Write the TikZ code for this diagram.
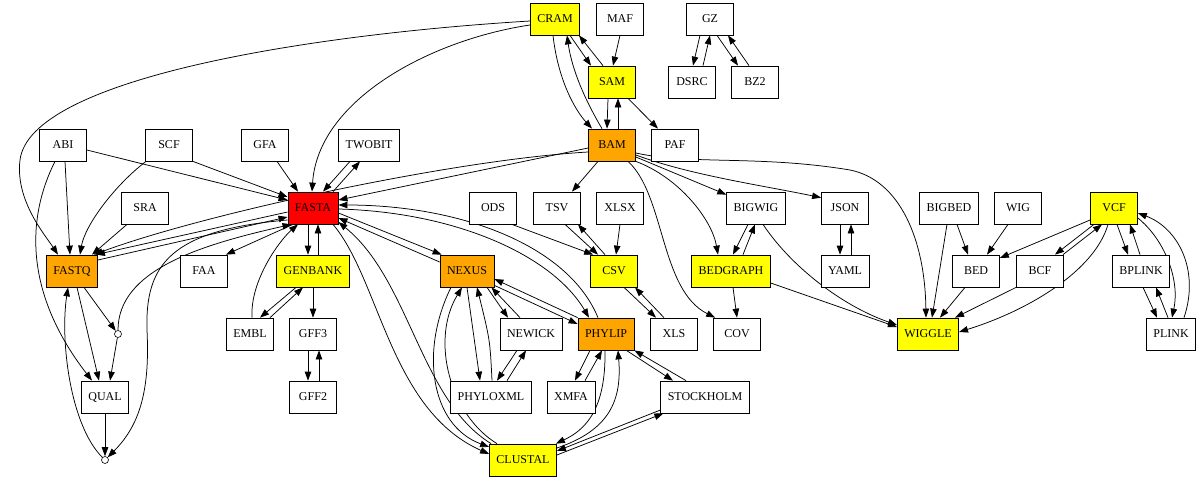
\documentclass[tikz,border=0pt]{standalone}
\usepackage{fontspec}
\setmainfont{Liberation Serif}
\usetikzlibrary{calc,arrows.meta}
\pgfdeclarelayer{bg}
\pgfsetlayers{bg,main}
\definecolor{cyel}{HTML}{FFFF00}
\definecolor{cora}{HTML}{FFA500}
\definecolor{cred}{HTML}{FF0000}
\begin{document}
\begin{tikzpicture}[x=1pt,y=-1pt,
  box/.style={draw=black, line width=0.75pt, fill=white, minimum width=47pt, minimum height=32pt, inner xsep=7pt, inner ysep=2pt, font=\fontsize{12}{14}\selectfont},
  e/.style={draw=black, line width=0.75pt, -{Triangle[length=9pt,width=6.5pt]}},
  pt/.style={circle, draw=black, line width=0.6pt, fill=white, inner sep=0pt, minimum size=7pt}]
\useasboundingbox (0,0) rectangle (1200,480);
% row 1
\node[box,fill=cyel] (cram) at (555,19) {CRAM};
\node[box] (maf) at (620,19) {MAF};
\node[box] (gz) at (710,19) {GZ};
% row 2
\node[box,fill=cyel] (sam) at (612,82) {SAM};
\node[box] (dsrc) at (692,82) {DSRC};
\node[box] (bz2) at (755,82) {BZ2};
% row 3
\node[box] (abi) at (63,145) {ABI};
\node[box] (scf) at (169,145) {SCF};
\node[box] (gfa) at (265,145) {GFA};
\node[box] (twobit) at (369,145) {TWOBIT};
\node[box,fill=cora] (bam) at (612,145) {BAM};
\node[box] (paf) at (675,145) {PAF};
% row 4
\node[box] (sra) at (145,208) {SRA};
\node[box,fill=cred] (fasta) at (313,208) {FASTA};
\node[box] (ods) at (493,208) {ODS};
\node[box] (tsv) at (557,208) {TSV};
\node[box] (xlsx) at (620,208) {XLSX};
\node[box] (bigwig) at (756,208) {BIGWIG};
\node[box] (json) at (845,208) {JSON};
\node[box] (bigbed) at (949,208) {BIGBED};
\node[box] (wig) at (1018,208) {WIG};
\node[box,fill=cyel] (vcf) at (1114,208) {VCF};
% row 5
\node[box,fill=cora] (fastq) at (72,271) {FASTQ};
\node[box] (faa) at (204,271) {FAA};
\node[box,fill=cyel] (genbank) at (313,271) {GENBANK};
\node[box,fill=cora] (nexus) at (467,271) {NEXUS};
\node[box,fill=cyel] (csv) at (614,271) {CSV};
\node[box,fill=cyel] (bedgraph) at (731,271) {BEDGRAPH};
\node[box] (yaml) at (845,271) {YAML};
\node[box] (bed) at (976,271) {BED};
\node[box] (bcf) at (1040,271) {BCF};
\node[box] (bplink) at (1141,271) {BPLINK};
% row 6
\node[pt] (pt1) at (118,334) {};
\node[box] (embl) at (250,334) {EMBL};
\node[box] (gff3) at (313,334) {GFF3};
\node[box] (newick) at (531,334) {NEWICK};
\node[box,fill=cora] (phylip) at (606,334) {PHYLIP};
\node[box] (xls) at (674,334) {XLS};
\node[box] (cov) at (737,334) {COV};
\node[box,fill=cyel] (wiggle) at (928,334) {WIGGLE};
\node[box] (plink) at (1171,334) {PLINK};
% row 7
\node[box] (qual) at (105,397) {QUAL};
\node[box] (gff2) at (313,397) {GFF2};
\node[box] (phyloxml) at (491,397) {PHYLOXML};
\node[box] (xmfa) at (571,397) {XMFA};
\node[box] (stockholm) at (705,397) {STOCKHOLM};
% row 8
\node[pt] (pt2) at (105,460) {};
\node[box,fill=cyel] (clustal) at (523,460) {CLUSTAL};

\begin{pgfonlayer}{bg}
% top cluster
\draw[e] ($(cram.south)+(15,0)$) -- ($(sam.north)+(-21,0)$);
\draw[e] ($(sam.north)+(-9,0)$) -- ($(cram.south)+(24,0)$);
\draw[e] ($(cram.south)+(-2,0)$) .. controls (558,80) and (575,110) .. ($(bam.north)+(-20,0)$);
\draw[e] ($(bam.north)+(-10,0)$) .. controls (585,100) and (572,70) .. ($(cram.south)+(12,0)$);
\draw[e] ($(sam.south)+(-4,0)$) -- ($(bam.north)+(-5,0)$);
\draw[e] ($(bam.north)+(6,0)$) -- ($(sam.south)+(6,0)$);
\draw[e] (maf.south) -- ($(sam.north)+(1,0)$);
\draw[e] ($(sam.south)+(16,0)$) -- ($(paf.north)+(-17,0)$);
\draw[e] ($(gz.south)+(-10,0)$) -- ($(dsrc.north)+(1,0)$);
\draw[e] ($(dsrc.north)+(11,0)$) -- (gz.south);
\draw[e] ($(gz.south)+(7,0)$) -- ($(bz2.north)+(-17,0)$);
\draw[e] ($(bz2.north)+(-6,0)$) -- ($(gz.south)+(18,0)$);
% left cluster
\draw[e] ($(abi.east)+(0,5)$) -- ($(fasta.west)+(0,-8)$);
\draw[e] ($(abi.south)+(2,0)$) -- ($(fastq.north)+(-2,0)$);
\draw[e] ($(abi.south)+(-8,0)$) .. controls (28,215) and (22,290) .. ($(qual.north)+(-13,0)$);
\draw[e] (scf.south east) -- ($(fasta.west)+(0,-11)$);
\draw[e] ($(scf.south)+(-23,0)$) .. controls (115,185) and (85,225) .. ($(fastq.north)+(8,0)$);
\draw[e] ($(sra.south)+(-18,0)$) -- ($(fastq.north)+(20,0)$);
\draw[e] ($(gfa.south)+(12,0)$) -- ($(fasta.north)+(-15,0)$);
\draw[e] ($(twobit.south)+(-19,0)$) -- ($(fasta.north)+(10,0)$);
\draw[e] ($(fasta.north)+(20,0)$) -- ($(twobit.south)+(-9,0)$);
\draw[e] ($(cram.west)+(0,6)$) .. controls (430,40) and (318,100) .. ($(fasta.north)+(-1,0)$);
\draw[e] ($(cram.west)+(0,2)$) .. controls (300,35) and (30,80) .. (20,160) .. controls (15,200) and (45,235) .. ($(fastq.north)+(-14,0)$);
\draw[e] ($(bam.west)+(0,3)$) -- ($(fasta.east)+(0,-8)$);
\draw[e] ($(bam.west)+(0,7)$) .. controls (450,160) and (200,215) .. ($(fastq.north east)+(-4,0)$);
\draw[e] ($(fasta.west)+(0,4)$) -- ($(fastq.north east)+(-2,0)$);
\draw[e] ($(fastq.east)+(0,-11)$) -- ($(fasta.west)+(0,9)$);
\draw[e] ($(fasta.south)+(-20,0)$) -- ($(faa.north east)+(-2,0)$);
\draw[e] ($(fasta.south)+(-5,0)$) -- ($(genbank.north)+(-5,0)$);
\draw[e] ($(genbank.north)+(5,0)$) -- ($(fasta.south)+(5,0)$);
\draw[e] ($(embl.north)+(2,0)$) .. controls (250,280) and (280,240) .. ($(fasta.south)+(-15,0)$);
\draw[e] ($(genbank.south)+(-17,0)$) -- ($(embl.north)+(10,0)$);
\draw[e] ($(embl.north)+(20,0)$) -- ($(genbank.south)+(-10,0)$);
\draw[e] (genbank.south) -- (gff3.north);
\draw[e] ($(gff3.south)+(-5,0)$) -- ($(gff2.north)+(-5,0)$);
\draw[e] ($(gff2.north)+(6,0)$) -- ($(gff3.south)+(6,0)$);
\draw[e] ($(fastq.south)+(5,0)$) -- ($(qual.north)+(-6,0)$);
\draw[e] ($(fastq.south)+(12,0)$) -- (pt1);
\draw[e] (pt1) -- ($(qual.north)+(5,0)$);
\draw[e] (pt1.north) .. controls (118,270) and (200,245) .. ($(fasta.south west)+(4,0)$);
\draw[e] ($(fasta.west)+(0,12)$) .. controls (170,230) and (145,265) .. (147,330) .. controls (150,390) and (140,425) .. (pt2);
\draw[e] (qual.south) -- (pt2);
\draw[e] (pt2) .. controls (70,425) and (60,340) .. ($(fastq.south)+(-4,0)$);
% fasta right side
\draw[e] ($(fasta.east)+(0,5)$) -- ($(nexus.north west)+(2,0)$);
\draw[e] ($(nexus.west)+(0,-9)$) -- ($(fasta.east)+(0,10)$);
\draw[e] ($(phylip.north)+(-8,0)$) .. controls (568,245) and (460,205) .. ($(fasta.east)+(0,-3)$);
\draw[e] ($(fasta.east)+(0,1)$) .. controls (455,212) and (552,255) .. ($(phylip.north)+(-17,0)$);
\draw[e] ($(fasta.south)+(20,0)$) .. controls (380,280) and (390,410) .. ($(clustal.west)+(0,-6)$);
\draw[e] ($(clustal.north west)+(2,0)$) .. controls (420,400) and (410,280) .. ($(fasta.east)+(0,14)$);
% nexus / phylip cluster
\draw[e] ($(nexus.south)+(-16,0)$) .. controls (420,350) and (430,425) .. ($(clustal.west)+(0,-13)$);
\draw[e] ($(clustal.north)+(-26,0)$) .. controls (450,415) and (430,340) .. ($(nexus.south)+(-5,0)$);
\draw[e] (nexus.south) -- ($(phyloxml.north)+(-11,0)$);
\draw[e] ($(phyloxml.north)+(1,0)$) .. controls (490,340) .. ($(nexus.south)+(10,0)$);
\draw[e] ($(nexus.south)+(20,0)$) -- ($(newick.north)+(-23,0)$);
\draw[e] ($(newick.north)+(-11,0)$) -- ($(nexus.south east)+(-3,0)$);
\draw[e] ($(newick.south)+(-14,0)$) -- ($(phyloxml.north)+(6,0)$);
\draw[e] ($(phyloxml.north)+(16,0)$) -- ($(newick.south)+(-5,0)$);
\draw[e] (phylip.north west) -- ($(nexus.east)+(0,8)$);
\draw[e] ($(nexus.south east)+(0,-2)$) -- ($(phylip.west)+(0,-10)$);
\draw[e] ($(phylip.south)+(-16,0)$) -- ($(xmfa.north)+(4,0)$);
\draw[e] ($(xmfa.north)+(14,0)$) -- ($(phylip.south)+(-4,0)$);
\draw[e] ($(phylip.south east)+(-8,0)$) -- ($(stockholm.north)+(-32,0)$);
\draw[e] ($(stockholm.north)+(-19,0)$) -- (phylip.south east);
\draw[e] ($(phylip.south)+(-1,0)$) .. controls (606,410) and (585,430) .. ($(clustal.north east)+(-1,0)$);
\draw[e] ($(clustal.east)+(0,-12)$) .. controls (610,430) and (622,400) .. ($(phylip.south)+(12,0)$);
\draw[e] ($(clustal.east)+(0,-5)$) -- ($(stockholm.south west)+(3,0)$);
\draw[e] ($(stockholm.west)+(0,13)$) -- ($(clustal.east)+(0,-9)$);
% csv cluster
\draw[e] ($(ods.south east)+(-5,0)$) -- ($(csv.north west)+(3,0)$);
\draw[e] ($(tsv.south)+(8,0)$) -- ($(csv.north)+(-16,0)$);
\draw[e] ($(csv.north)+(-9,0)$) -- ($(tsv.south)+(21,0)$);
\draw[e] (xlsx.south) -- ($(csv.north)+(2,0)$);
\draw[e] ($(csv.south)+(10,0)$) -- ($(xls.north)+(-18,0)$);
\draw[e] ($(xls.north)+(-10,0)$) -- ($(csv.south)+(21,0)$);
% bam outgoing
\draw[e] ($(bam.south)+(-14,0)$) -- ($(tsv.north)+(15,0)$);
\draw[e] ($(bam.south)+(16,0)$) .. controls (665,195) and (660,290) .. ($(cov.north west)+(2,0)$);
\draw[e] (bam.south east) .. controls (680,178) and (712,220) .. ($(bedgraph.north)+(-13,0)$);
\draw[e] ($(bam.east)+(0,12)$) -- ($(bigwig.north west)+(0,3)$);
\draw[e] ($(bam.east)+(0,10)$) .. controls (690,175) and (760,185) .. ($(json.north west)+(0,6)$);
\draw[e] ($(bam.east)+(0,8)$) .. controls (690,165) and (760,155) .. (850,170) .. controls (900,180) and (925,240) .. ($(wiggle.north)+(-2,0)$);
\draw[e] ($(bigwig.south)+(-8,0)$) -- ($(bedgraph.north)+(2,0)$);
\draw[e] ($(bedgraph.north)+(12,0)$) -- ($(bigwig.south)+(-1,0)$);
\draw[e] ($(bigwig.south)+(7,0)$) .. controls (790,265) and (840,305) .. ($(wiggle.west)+(0,-9)$);
\draw[e] ($(bedgraph.east)+(0,12)$) -- ($(wiggle.west)+(0,-7)$);
\draw[e] ($(bedgraph.south)+(2,0)$) -- (cov.north);
\draw[e] ($(json.south)+(-5,0)$) -- ($(yaml.north)+(-5,0)$);
\draw[e] ($(yaml.north)+(6,0)$) -- ($(json.south)+(6,0)$);
% right cluster
\draw[e] ($(bigbed.south)+(8,0)$) -- ($(bed.north)+(-8,0)$);
\draw[e] ($(bigbed.south)+(-2,0)$) -- ($(wiggle.north)+(4,0)$);
\draw[e] ($(wig.south)+(-10,0)$) -- ($(bed.north)+(11,0)$);
\draw[e] ($(vcf.west)+(0,12)$) -- ($(bed.east)+(0,-13)$);
\draw[e] ($(vcf.south)+(-20,0)$) -- ($(bcf.north)+(15,0)$);
\draw[e] ($(bcf.north)+(23,0)$) -- ($(vcf.south)+(-12,0)$);
\draw[e] ($(vcf.south)+(-6,0)$) .. controls (1095,270) and (1030,310) .. ($(wiggle.east)+(0,-2)$);
\draw[e] ($(bed.south)+(-11,0)$) -- ($(wiggle.north)+(12,0)$);
\draw[e] (bcf.south west) -- ($(wiggle.north east)+(-4,0)$);
\draw[e] ($(vcf.south)+(3,0)$) -- ($(bplink.north)+(-13,0)$);
\draw[e] ($(bplink.north)+(-1,0)$) -- ($(vcf.south)+(16,0)$);
\draw[e] ($(bplink.south)+(2,0)$) -- ($(plink.north)+(-14,0)$);
\draw[e] ($(plink.north)+(-3,0)$) -- ($(bplink.south)+(15,0)$);
\draw[e] ($(vcf.east)+(0,10)$) .. controls (1165,240) and (1180,280) .. ($(plink.north)+(1,0)$);
\draw[e] ($(plink.north)+(13,0)$) .. controls (1200,270) and (1178,228) .. ($(vcf.east)+(0,5)$);
\end{pgfonlayer}
\end{tikzpicture}
\end{document}
